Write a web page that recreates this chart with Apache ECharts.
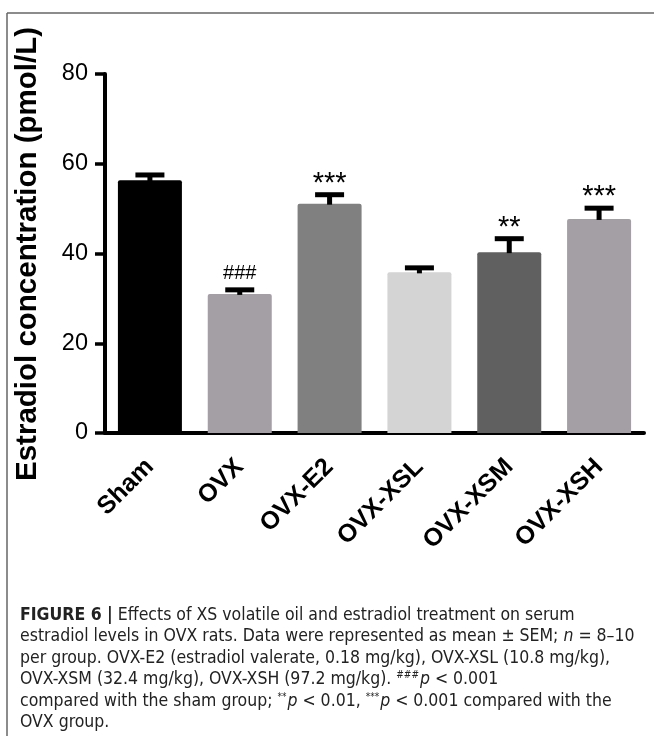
<!DOCTYPE html>
<html><head><meta charset="utf-8">
<script src="https://cdn.jsdelivr.net/npm/echarts@6/dist/echarts.min.js"></script>
<style>html,body{margin:0;padding:0;background:#fff}#c{width:654px;height:736px}</style>
</head><body><div id="c"></div>
<script>
const categories = ['Sham', 'OVX', 'OVX-E2', 'OVX-XSL', 'OVX-XSM', 'OVX-XSH'];
const means = [56.3, 31.0, 51.1, 35.8, 40.3, 47.7];
const sems = [1.2, 0.9, 2.0, 1.0, 3.0, 2.4];
const marks = ['', '###', '***', '', '**', '***'];
const barColors = ['#000000', '#a39fa4', '#808080', '#d4d4d4', '#606060', '#a39fa4'];
const yTicks = [0, 20, 40, 60, 80];
const yTitle = 'Estradiol concentration (pmol/L)';
const captionLines = [
  '{b|FIGURE 6 |} Effects of XS volatile oil and estradiol treatment on serum',
  'estradiol levels in OVX rats. Data were represented as mean ± SEM; {i|n} = 8–10',
  'per group. OVX-E2 (estradiol valerate, 0.18 mg/kg), OVX-XSL (10.8 mg/kg),',
  'OVX-XSM (32.4 mg/kg), OVX-XSH (97.2 mg/kg). {s|###}{i|p} < 0.001',
  'compared with the sham group; {s|**}{i|p} < 0.01, {s|***}{i|p} < 0.001 compared with the',
  'OVX group.'
];

const FONT = '"Liberation Sans", Arial, Helvetica, sans-serif';
const CAPFONT = '"Liberation Sans Narrow", "Arial Narrow", "DejaVu Sans Condensed", sans-serif';
const CAPSIZE = 17.5;
const chart = echarts.init(document.getElementById('c'), null, {renderer: 'canvas'});

const capRich = {
  b: {fontWeight: 'bold', fontFamily: CAPFONT, fontSize: CAPSIZE, fill: '#222'},
  i: {fontStyle: 'italic', fontFamily: CAPFONT, fontSize: CAPSIZE, fill: '#222'},
  s: {fontFamily: CAPFONT, fontSize: 10, fill: '#222', verticalAlign: 'top', padding: [0, 1, 7, 0]}
};

const graphics = [
  {type: 'line', shape: {x1: 7, y1: 13, x2: 654, y2: 13}, style: {stroke: '#666', lineWidth: 1.5}},
  {type: 'line', shape: {x1: 7, y1: 13, x2: 7, y2: 736}, style: {stroke: '#666', lineWidth: 1.5}},
  {type: 'text', x: 28, y: 254, rotation: Math.PI / 2,
   style: {text: yTitle, font: 'bold 29.5px ' + FONT, fill: '#000', align: 'center', verticalAlign: 'middle'}}
];
captionLines.forEach((t, k) => {
  graphics.push({type: 'text', x: 20, y: 615 + k * 21.5,
    style: {text: t, fontFamily: CAPFONT, fontSize: CAPSIZE, fill: '#222', rich: capRich, verticalAlign: 'middle'}});
});

chart.setOption({
  backgroundColor: '#fff',
  animation: false,
  grid: {left: 105, top: 74, width: 539, height: 359, containLabel: false},
  xAxis: {
    type: 'category', data: categories,
    axisLine: {lineStyle: {color: '#000', width: 4}},
    axisTick: {alignWithLabel: true, length: 10, lineStyle: {color: '#000', width: 4}},
    axisLabel: {rotate: 45, margin: 30, color: '#000', fontSize: 25, fontWeight: 'bold', fontFamily: FONT}
  },
  yAxis: {
    type: 'value', min: yTicks[0], max: yTicks[yTicks.length - 1], interval: 20,
    axisLine: {show: true, lineStyle: {color: '#000', width: 4}},
    axisTick: {show: true, length: 10, lineStyle: {color: '#000', width: 3.5}},
    axisLabel: {margin: 17, color: '#000', fontSize: 23.5, fontFamily: FONT},
    splitLine: {show: false}
  },
  series: [
    {
      type: 'bar', barWidth: 64,
      data: means.map((v, i) => ({value: v, itemStyle: {color: barColors[i], borderRadius: [2, 2, 0, 0]}}))
    },
    {
      type: 'custom', z: 5,
      data: categories.map((c, i) => [i, means[i], sems[i]]),
      renderItem: function (params, api) {
        const i = api.value(0), m = api.value(1), s = api.value(2);
        const top = api.coord([i, m + s]);
        const base = api.coord([i, m]);
        const children = [
          {type: 'line', shape: {x1: top[0], y1: base[1] + 1, x2: top[0], y2: top[1]}, style: {stroke: '#000', lineWidth: 5}},
          {type: 'line', shape: {x1: top[0] - 14.5, y1: top[1], x2: top[0] + 14.5, y2: top[1]}, style: {stroke: '#000', lineWidth: 5}}
        ];
        const mk = marks[i];
        if (mk) {
          const isHash = mk.charAt(0) === '#';
          children.push({type: 'text', x: top[0], y: top[1] - (isHash ? 16 : 11),
            style: {text: mk, fill: '#000', align: 'center', verticalAlign: 'middle',
              font: (isHash ? '20px ' : '29px ') + FONT}});
        }
        return {type: 'group', children: children};
      }
    }
  ],
  graphic: graphics
});
</script></body></html>
